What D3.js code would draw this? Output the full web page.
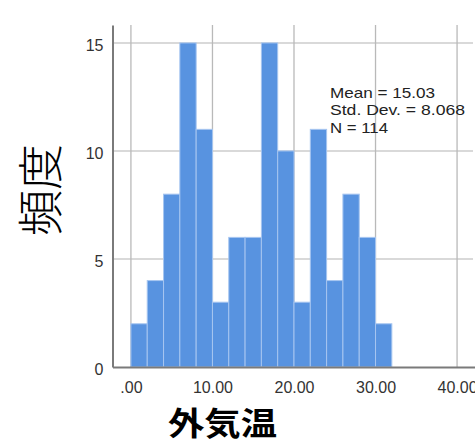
<!DOCTYPE html>
<html>
<head>
<meta charset="utf-8">
<script src="https://cdn.jsdelivr.net/npm/d3@7"></script>
<style>
  body { margin: 0; background: #fff; }
  svg { display: block; }
</style>
</head>
<body>
<div id="chart"></div>
<script>
// histogram bins (lower edge, width 2) and their counts
const binStarts = [0, 2, 4, 6, 8, 10, 12, 14, 16, 18, 20, 22, 24, 26, 28, 30];
const counts = [2, 4, 8, 15, 11, 3, 6, 6, 15, 10, 3, 11, 4, 8, 6, 2];
const binWidth = 2;

const xTicks = [0, 10, 20, 30, 40];
const xTickLabels = ['.00', '10.00', '20.00', '30.00', '40.00'];
const yTicks = [0, 5, 10, 15];
const yTickLabels = ['0', '5', '10', '15'];

const statLines = ['Mean = 15.03', 'Std. Dev. = 8.068', 'N = 114'];
const statWidths = [105, 135, 58];

const xTitle = '外気温';
const yTitle = '頻度';

const width = 475;
const height = 446;

const svg = d3.select('#chart')
  .append('svg')
  .attr('width', width)
  .attr('height', height);

// scales - domain a bit wider than the data so the frame matches
const x = d3.scaleLinear()
  .domain([-2.26, 42.2])
  .range([112.5, 475]);

const y = d3.scaleLinear()
  .domain([0, 15.83])
  .range([367, 25]);

// grid lines
svg.append('g')
  .selectAll('line')
  .data(yTicks.filter(d => d > 0))
  .enter()
  .append('line')
  .attr('x1', x.range()[0])
  .attr('x2', 473)
  .attr('y1', d => y(d))
  .attr('y2', d => y(d))
  .attr('stroke', '#d9d9d9')
  .attr('stroke-width', 2);

svg.append('g')
  .selectAll('line')
  .data(xTicks)
  .enter()
  .append('line')
  .attr('x1', d => x(d))
  .attr('x2', d => x(d))
  .attr('y1', y.range()[1])
  .attr('y2', y(0))
  .attr('stroke', '#b9b9b9')
  .attr('stroke-width', 1.3);

// bars
svg.append('g')
  .selectAll('rect')
  .data(binStarts)
  .enter()
  .append('rect')
  .attr('x', d => x(d))
  .attr('y', (d, i) => y(counts[i]))
  .attr('width', d => x(d + binWidth) - x(d))
  .attr('height', (d, i) => y(0) - y(counts[i]))
  .attr('fill', '#5893e0')
  .attr('stroke', '#a6c5f0')
  .attr('stroke-width', 1);

// axes
const xAxis = svg.append('g')
  .attr('transform', `translate(0,${y(0)})`)
  .call(d3.axisBottom(x)
    .tickValues(xTicks)
    .tickSize(0)
    .tickPadding(15)
    .tickFormat((d, i) => xTickLabels[i]));

const yAxis = svg.append('g')
  .attr('transform', `translate(${x.range()[0]},0)`)
  .call(d3.axisLeft(y)
    .tickValues(yTicks)
    .tickSize(0)
    .tickPadding(9)
    .tickFormat((d, i) => yTickLabels[i]));

[xAxis, yAxis].forEach(g => {
  g.select('.domain')
    .attr('stroke', '#7a7a7a')
    .attr('stroke-width', 2);
  g.selectAll('text')
    .attr('fill', '#333')
    .style('font-family', '"Liberation Sans", Arial, sans-serif')
    .style('font-size', '16px');
});
yAxis.selectAll('text').attr('dy', '0.45em');

// stats box
svg.append('g')
  .selectAll('text')
  .data(statLines)
  .enter()
  .append('text')
  .attr('x', 330)
  .attr('y', (d, i) => 97.5 + i * 17.8)
  .attr('textLength', (d, i) => statWidths[i])
  .attr('lengthAdjust', 'spacingAndGlyphs')
  .attr('fill', '#222')
  .style('font-family', '"Liberation Sans", Arial, sans-serif')
  .style('font-size', '15px')
  .text(d => d);

// axis titles
svg.append('text')
  .attr('x', 168)
  .attr('y', 435)
  .attr('textLength', 109)
  .attr('lengthAdjust', 'spacingAndGlyphs')
  .attr('fill', '#000')
  .style('font-family', '"Noto Sans CJK JP", sans-serif')
  .style('font-weight', 'bold')
  .style('font-size', '32px')
  .text(xTitle);

svg.append('text')
  .attr('transform', 'translate(57,190) rotate(-90)')
  .attr('text-anchor', 'middle')
  .attr('fill', '#000')
  .style('font-family', '"Noto Sans CJK JP", sans-serif')
  .style('font-weight', '300')
  .style('font-size', '46px')
  .text(yTitle);
</script>
</body>
</html>
